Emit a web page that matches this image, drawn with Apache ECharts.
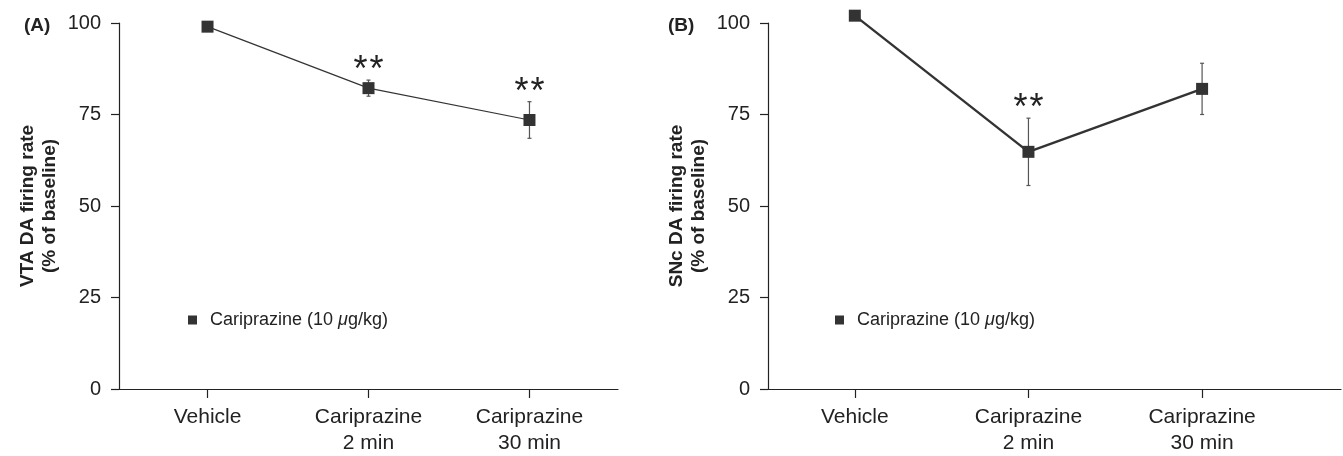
<!DOCTYPE html>
<html>
<head>
<meta charset="utf-8">
<script src="https://cdn.jsdelivr.net/npm/echarts@6/dist/echarts.min.js"></script>
<style>
  html, body { margin: 0; padding: 0; background: #fff; }
  #chart { width: 1343px; height: 456px; }
</style>
</head>
<body>
<div id="chart"></div>
<script>
// x positions 1..3 stand for the three conditions
const categories = ['Vehicle', 'Cariprazine\n2 min', 'Cariprazine\n30 min'];
const yTicks = [0, 25, 50, 75, 100];

// (A) VTA
const vtaMean = [99, 82.2, 73.5];
const vtaErr = [0, 2.2, 5];
const vtaStars = ['', '**', '**'];

// (B) SNc
const sncMean = [102, 64.8, 82];
const sncErr = [0, 9.2, 7];
const sncStars = ['', '**', ''];

const seriesName = 'Cariprazine (10 μg/kg)';
const ink = '#333';
const font = 'Liberation Sans, Arial, sans-serif';

const chart = echarts.init(document.getElementById('chart'), null, { renderer: 'canvas' });

function xAxisFun(gridIndex, min, max) {
  return {
    gridIndex: gridIndex,
    type: 'value',
    min: min,
    max: max,
    splitLine: { show: false },
    axisLine: { show: true, onZero: false, lineStyle: { color: '#222', width: 1.2 } },
    axisTick: { show: true, customValues: [1, 2, 3], length: 9, lineStyle: { color: '#222', width: 1.2 } },
    axisLabel: {
      customValues: [1, 2, 3],
      margin: 15,
      color: '#222',
      fontFamily: font,
      fontSize: 21,
      lineHeight: 26,
      formatter: v => categories[Math.round(v) - 1] || ''
    }
  };
}

function yAxisFun(gridIndex, title) {
  return {
    gridIndex: gridIndex,
    type: 'value',
    min: 0,
    max: 100,
    interval: 25,
    splitLine: { show: false },
    axisLine: { show: true, lineStyle: { color: '#222', width: 1.2 } },
    axisTick: { show: true, length: 8, lineStyle: { color: '#222', width: 1.2 } },
    axisLabel: {
      margin: 18,
      color: '#222',
      fontFamily: font,
      fontSize: 20,
      customValues: yTicks
    },
    name: title,
    nameLocation: 'middle',
    nameGap: 58,
    nameTextStyle: {
      color: '#222',
      fontFamily: font,
      fontWeight: 'bold',
      fontSize: 19,
      lineHeight: 22
    }
  };
}

function lineSeries(idx, mean, width) {
  return {
    name: seriesName,
    type: 'line',
    xAxisIndex: idx,
    yAxisIndex: idx,
    clip: false,
    symbol: 'rect',
    symbolSize: 12,
    z: 3,
    itemStyle: { color: ink },
    lineStyle: { color: ink, width: width },
    data: mean.map((v, i) => [i + 1, v])
  };
}

function errorSeries(idx, mean, err) {
  return {
    type: 'custom',
    xAxisIndex: idx,
    yAxisIndex: idx,
    z: 2,
    silent: true,
    renderItem: (params, api) => {
      const x = api.value(0);
      const lo = api.coord([x, api.value(1)]);
      const hi = api.coord([x, api.value(2)]);
      const style = { stroke: '#555', lineWidth: 1.2 };
      return {
        type: 'group',
        children: [
          { type: 'line', shape: { x1: lo[0], y1: lo[1], x2: hi[0], y2: hi[1] }, style: style },
          { type: 'line', shape: { x1: lo[0] - 2, y1: lo[1], x2: lo[0] + 2, y2: lo[1] }, style: style },
          { type: 'line', shape: { x1: hi[0] - 2, y1: hi[1], x2: hi[0] + 2, y2: hi[1] }, style: style }
        ]
      };
    },
    data: mean.map((v, i) => [i + 1, v - err[i], v + err[i]]).filter((d, i) => err[i] > 0)
  };
}

function starSeries(idx, mean, err, stars) {
  return {
    type: 'custom',
    xAxisIndex: idx,
    yAxisIndex: idx,
    z: 4,
    silent: true,
    renderItem: (params, api) => {
      const p = api.coord([api.value(0), api.value(1)]);
      const s = { fill: '#222', fontFamily: font, fontSize: 36, align: 'center', verticalAlign: 'middle' };
      return {
        type: 'group',
        children: [
          { type: 'text', x: p[0] - 8, y: p[1] - 9, style: Object.assign({ text: '*' }, s) },
          { type: 'text', x: p[0] + 8, y: p[1] - 9, style: Object.assign({ text: '*' }, s) }
        ]
      };
    },
    data: mean.map((v, i) => [i + 1, v + err[i], stars[i]]).filter(d => d[2] !== '')
  };
}

function legendFun(left) {
  return {
    data: [seriesName],
    left: left,
    top: 306,
    icon: 'rect',
    itemWidth: 9,
    itemHeight: 9,
    selectedMode: false,
    formatter: () => '{a|Cariprazine (10 }{b|μ}{c|g/kg)}',
    textStyle: {
      color: '#222',
      fontFamily: font,
      fontSize: 18,
      rich: {
        a: { fontFamily: font, fontSize: 18, color: '#222', padding: [0, 0, 0, 8] },
        b: { fontFamily: font, fontSize: 18, color: '#222', fontStyle: 'italic' },
        c: { fontFamily: font, fontSize: 18, color: '#222' }
      }
    }
  };
}

const option = {
  backgroundColor: '#fff',
  animation: false,
  title: [
    { text: '(A)', left: 19, top: 11, textStyle: { fontFamily: font, fontSize: 19, fontWeight: 'bold', color: '#222' } },
    { text: '(B)', left: 663, top: 11, textStyle: { fontFamily: font, fontSize: 19, fontWeight: 'bold', color: '#222' } }
  ],
  legend: [legendFun(183), legendFun(830)],
  grid: [
    { left: 119, top: 23, width: 499, height: 366 },
    { left: 768, top: 23, width: 573, height: 366 }
  ],
  xAxis: [xAxisFun(0, 0.45, 3.55), xAxisFun(1, 0.5, 3.8)],
  yAxis: [
    yAxisFun(0, 'VTA DA firing rate\n(% of baseline)'),
    yAxisFun(1, 'SNc DA firing rate\n(% of baseline)')
  ],
  series: [
    errorSeries(0, vtaMean, vtaErr),
    lineSeries(0, vtaMean, 1.2),
    starSeries(0, vtaMean, vtaErr, vtaStars),
    errorSeries(1, sncMean, sncErr),
    lineSeries(1, sncMean, 2.4),
    starSeries(1, sncMean, sncErr, sncStars)
  ]
};

chart.setOption(option);
</script>
</body>
</html>
